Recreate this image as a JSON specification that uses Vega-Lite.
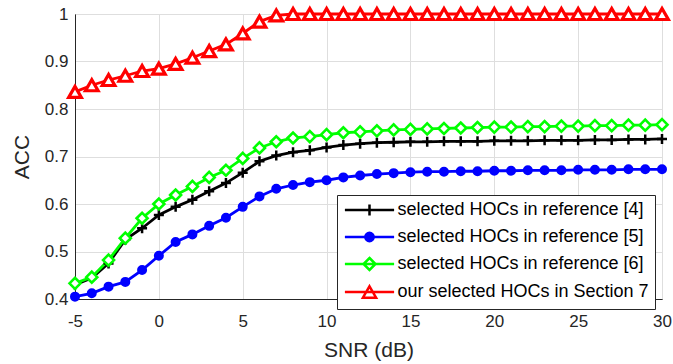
{
  "$schema": "https://vega.github.io/schema/vega-lite/v6.json",
  "width": 587,
  "height": 285,
  "autosize": "none",
  "padding": {"left": 75, "top": 14, "right": 11, "bottom": 65},
  "background": "white",
  "config": {
    "font": "Liberation Sans",
    "view": {"stroke": "#262626", "strokeWidth": 1},
    "axis": {
      "domainColor": "#262626",
      "grid": true,
      "gridColor": "#dedede",
      "gridWidth": 1,
      "ticks": false,
      "labelFlush": false,
      "labelColor": "#262626",
      "labelFontSize": 17,
      "titleColor": "#262626",
      "titleFontSize": 21,
      "titleFontWeight": "normal"
    }
  },
  "datasets": {
    "acc": [
      {"snr": -5, "method": "selected HOCs in reference [4]", "acc": 0.430},
      {"snr": -4, "method": "selected HOCs in reference [4]", "acc": 0.444},
      {"snr": -3, "method": "selected HOCs in reference [4]", "acc": 0.475},
      {"snr": -2, "method": "selected HOCs in reference [4]", "acc": 0.525},
      {"snr": -1, "method": "selected HOCs in reference [4]", "acc": 0.549},
      {"snr": 0, "method": "selected HOCs in reference [4]", "acc": 0.577},
      {"snr": 1, "method": "selected HOCs in reference [4]", "acc": 0.594},
      {"snr": 2, "method": "selected HOCs in reference [4]", "acc": 0.609},
      {"snr": 3, "method": "selected HOCs in reference [4]", "acc": 0.627},
      {"snr": 4, "method": "selected HOCs in reference [4]", "acc": 0.644},
      {"snr": 5, "method": "selected HOCs in reference [4]", "acc": 0.666},
      {"snr": 6, "method": "selected HOCs in reference [4]", "acc": 0.690},
      {"snr": 7, "method": "selected HOCs in reference [4]", "acc": 0.702},
      {"snr": 8, "method": "selected HOCs in reference [4]", "acc": 0.709},
      {"snr": 9, "method": "selected HOCs in reference [4]", "acc": 0.713},
      {"snr": 10, "method": "selected HOCs in reference [4]", "acc": 0.719},
      {"snr": 11, "method": "selected HOCs in reference [4]", "acc": 0.724},
      {"snr": 12, "method": "selected HOCs in reference [4]", "acc": 0.727},
      {"snr": 13, "method": "selected HOCs in reference [4]", "acc": 0.729},
      {"snr": 14, "method": "selected HOCs in reference [4]", "acc": 0.730},
      {"snr": 15, "method": "selected HOCs in reference [4]", "acc": 0.731},
      {"snr": 16, "method": "selected HOCs in reference [4]", "acc": 0.731},
      {"snr": 17, "method": "selected HOCs in reference [4]", "acc": 0.732},
      {"snr": 18, "method": "selected HOCs in reference [4]", "acc": 0.732},
      {"snr": 19, "method": "selected HOCs in reference [4]", "acc": 0.732},
      {"snr": 20, "method": "selected HOCs in reference [4]", "acc": 0.733},
      {"snr": 21, "method": "selected HOCs in reference [4]", "acc": 0.733},
      {"snr": 22, "method": "selected HOCs in reference [4]", "acc": 0.733},
      {"snr": 23, "method": "selected HOCs in reference [4]", "acc": 0.734},
      {"snr": 24, "method": "selected HOCs in reference [4]", "acc": 0.734},
      {"snr": 25, "method": "selected HOCs in reference [4]", "acc": 0.734},
      {"snr": 26, "method": "selected HOCs in reference [4]", "acc": 0.735},
      {"snr": 27, "method": "selected HOCs in reference [4]", "acc": 0.735},
      {"snr": 28, "method": "selected HOCs in reference [4]", "acc": 0.736},
      {"snr": 29, "method": "selected HOCs in reference [4]", "acc": 0.736},
      {"snr": 30, "method": "selected HOCs in reference [4]", "acc": 0.737},

      {"snr": -5, "method": "selected HOCs in reference [5]", "acc": 0.405},
      {"snr": -4, "method": "selected HOCs in reference [5]", "acc": 0.412},
      {"snr": -3, "method": "selected HOCs in reference [5]", "acc": 0.426},
      {"snr": -2, "method": "selected HOCs in reference [5]", "acc": 0.436},
      {"snr": -1, "method": "selected HOCs in reference [5]", "acc": 0.461},
      {"snr": 0, "method": "selected HOCs in reference [5]", "acc": 0.491},
      {"snr": 1, "method": "selected HOCs in reference [5]", "acc": 0.520},
      {"snr": 2, "method": "selected HOCs in reference [5]", "acc": 0.536},
      {"snr": 3, "method": "selected HOCs in reference [5]", "acc": 0.554},
      {"snr": 4, "method": "selected HOCs in reference [5]", "acc": 0.571},
      {"snr": 5, "method": "selected HOCs in reference [5]", "acc": 0.594},
      {"snr": 6, "method": "selected HOCs in reference [5]", "acc": 0.616},
      {"snr": 7, "method": "selected HOCs in reference [5]", "acc": 0.632},
      {"snr": 8, "method": "selected HOCs in reference [5]", "acc": 0.640},
      {"snr": 9, "method": "selected HOCs in reference [5]", "acc": 0.646},
      {"snr": 10, "method": "selected HOCs in reference [5]", "acc": 0.650},
      {"snr": 11, "method": "selected HOCs in reference [5]", "acc": 0.656},
      {"snr": 12, "method": "selected HOCs in reference [5]", "acc": 0.660},
      {"snr": 13, "method": "selected HOCs in reference [5]", "acc": 0.663},
      {"snr": 14, "method": "selected HOCs in reference [5]", "acc": 0.665},
      {"snr": 15, "method": "selected HOCs in reference [5]", "acc": 0.667},
      {"snr": 16, "method": "selected HOCs in reference [5]", "acc": 0.668},
      {"snr": 17, "method": "selected HOCs in reference [5]", "acc": 0.668},
      {"snr": 18, "method": "selected HOCs in reference [5]", "acc": 0.669},
      {"snr": 19, "method": "selected HOCs in reference [5]", "acc": 0.669},
      {"snr": 20, "method": "selected HOCs in reference [5]", "acc": 0.670},
      {"snr": 21, "method": "selected HOCs in reference [5]", "acc": 0.670},
      {"snr": 22, "method": "selected HOCs in reference [5]", "acc": 0.671},
      {"snr": 23, "method": "selected HOCs in reference [5]", "acc": 0.671},
      {"snr": 24, "method": "selected HOCs in reference [5]", "acc": 0.671},
      {"snr": 25, "method": "selected HOCs in reference [5]", "acc": 0.672},
      {"snr": 26, "method": "selected HOCs in reference [5]", "acc": 0.672},
      {"snr": 27, "method": "selected HOCs in reference [5]", "acc": 0.672},
      {"snr": 28, "method": "selected HOCs in reference [5]", "acc": 0.673},
      {"snr": 29, "method": "selected HOCs in reference [5]", "acc": 0.673},
      {"snr": 30, "method": "selected HOCs in reference [5]", "acc": 0.673},

      {"snr": -5, "method": "selected HOCs in reference [6]", "acc": 0.433},
      {"snr": -4, "method": "selected HOCs in reference [6]", "acc": 0.446},
      {"snr": -3, "method": "selected HOCs in reference [6]", "acc": 0.482},
      {"snr": -2, "method": "selected HOCs in reference [6]", "acc": 0.528},
      {"snr": -1, "method": "selected HOCs in reference [6]", "acc": 0.570},
      {"snr": 0, "method": "selected HOCs in reference [6]", "acc": 0.600},
      {"snr": 1, "method": "selected HOCs in reference [6]", "acc": 0.619},
      {"snr": 2, "method": "selected HOCs in reference [6]", "acc": 0.637},
      {"snr": 3, "method": "selected HOCs in reference [6]", "acc": 0.656},
      {"snr": 4, "method": "selected HOCs in reference [6]", "acc": 0.671},
      {"snr": 5, "method": "selected HOCs in reference [6]", "acc": 0.696},
      {"snr": 6, "method": "selected HOCs in reference [6]", "acc": 0.718},
      {"snr": 7, "method": "selected HOCs in reference [6]", "acc": 0.731},
      {"snr": 8, "method": "selected HOCs in reference [6]", "acc": 0.739},
      {"snr": 9, "method": "selected HOCs in reference [6]", "acc": 0.742},
      {"snr": 10, "method": "selected HOCs in reference [6]", "acc": 0.746},
      {"snr": 11, "method": "selected HOCs in reference [6]", "acc": 0.750},
      {"snr": 12, "method": "selected HOCs in reference [6]", "acc": 0.752},
      {"snr": 13, "method": "selected HOCs in reference [6]", "acc": 0.754},
      {"snr": 14, "method": "selected HOCs in reference [6]", "acc": 0.756},
      {"snr": 15, "method": "selected HOCs in reference [6]", "acc": 0.757},
      {"snr": 16, "method": "selected HOCs in reference [6]", "acc": 0.758},
      {"snr": 17, "method": "selected HOCs in reference [6]", "acc": 0.759},
      {"snr": 18, "method": "selected HOCs in reference [6]", "acc": 0.760},
      {"snr": 19, "method": "selected HOCs in reference [6]", "acc": 0.761},
      {"snr": 20, "method": "selected HOCs in reference [6]", "acc": 0.762},
      {"snr": 21, "method": "selected HOCs in reference [6]", "acc": 0.762},
      {"snr": 22, "method": "selected HOCs in reference [6]", "acc": 0.763},
      {"snr": 23, "method": "selected HOCs in reference [6]", "acc": 0.763},
      {"snr": 24, "method": "selected HOCs in reference [6]", "acc": 0.764},
      {"snr": 25, "method": "selected HOCs in reference [6]", "acc": 0.764},
      {"snr": 26, "method": "selected HOCs in reference [6]", "acc": 0.765},
      {"snr": 27, "method": "selected HOCs in reference [6]", "acc": 0.765},
      {"snr": 28, "method": "selected HOCs in reference [6]", "acc": 0.766},
      {"snr": 29, "method": "selected HOCs in reference [6]", "acc": 0.766},
      {"snr": 30, "method": "selected HOCs in reference [6]", "acc": 0.767},

      {"snr": -5, "method": "our selected HOCs in Section 7", "acc": 0.836},
      {"snr": -4, "method": "our selected HOCs in Section 7", "acc": 0.850},
      {"snr": -3, "method": "our selected HOCs in Section 7", "acc": 0.861},
      {"snr": -2, "method": "our selected HOCs in Section 7", "acc": 0.870},
      {"snr": -1, "method": "our selected HOCs in Section 7", "acc": 0.880},
      {"snr": 0, "method": "our selected HOCs in Section 7", "acc": 0.885},
      {"snr": 1, "method": "our selected HOCs in Section 7", "acc": 0.895},
      {"snr": 2, "method": "our selected HOCs in Section 7", "acc": 0.908},
      {"snr": 3, "method": "our selected HOCs in Section 7", "acc": 0.922},
      {"snr": 4, "method": "our selected HOCs in Section 7", "acc": 0.936},
      {"snr": 5, "method": "our selected HOCs in Section 7", "acc": 0.959},
      {"snr": 6, "method": "our selected HOCs in Section 7", "acc": 0.984},
      {"snr": 7, "method": "our selected HOCs in Section 7", "acc": 0.997},
      {"snr": 8, "method": "our selected HOCs in Section 7", "acc": 1.0},
      {"snr": 9, "method": "our selected HOCs in Section 7", "acc": 1.0},
      {"snr": 10, "method": "our selected HOCs in Section 7", "acc": 1.0},
      {"snr": 11, "method": "our selected HOCs in Section 7", "acc": 1.0},
      {"snr": 12, "method": "our selected HOCs in Section 7", "acc": 1.0},
      {"snr": 13, "method": "our selected HOCs in Section 7", "acc": 1.0},
      {"snr": 14, "method": "our selected HOCs in Section 7", "acc": 1.0},
      {"snr": 15, "method": "our selected HOCs in Section 7", "acc": 1.0},
      {"snr": 16, "method": "our selected HOCs in Section 7", "acc": 1.0},
      {"snr": 17, "method": "our selected HOCs in Section 7", "acc": 1.0},
      {"snr": 18, "method": "our selected HOCs in Section 7", "acc": 1.0},
      {"snr": 19, "method": "our selected HOCs in Section 7", "acc": 1.0},
      {"snr": 20, "method": "our selected HOCs in Section 7", "acc": 1.0},
      {"snr": 21, "method": "our selected HOCs in Section 7", "acc": 1.0},
      {"snr": 22, "method": "our selected HOCs in Section 7", "acc": 1.0},
      {"snr": 23, "method": "our selected HOCs in Section 7", "acc": 1.0},
      {"snr": 24, "method": "our selected HOCs in Section 7", "acc": 1.0},
      {"snr": 25, "method": "our selected HOCs in Section 7", "acc": 1.0},
      {"snr": 26, "method": "our selected HOCs in Section 7", "acc": 1.0},
      {"snr": 27, "method": "our selected HOCs in Section 7", "acc": 1.0},
      {"snr": 28, "method": "our selected HOCs in Section 7", "acc": 1.0},
      {"snr": 29, "method": "our selected HOCs in Section 7", "acc": 1.0},
      {"snr": 30, "method": "our selected HOCs in Section 7", "acc": 1.0}
    ]
  },
  "data": {"name": "acc"},
  "encoding": {
    "x": {
      "field": "snr",
      "type": "quantitative",
      "title": "SNR (dB)",
      "scale": {"domain": [-5, 30], "nice": false, "zero": false},
      "axis": {"values": [-5, 0, 5, 10, 15, 20, 25, 30], "labelExpr": "replace(datum.label, '\u2212', '-')", "labelPadding": 14, "titlePadding": 10}
    },
    "y": {
      "field": "acc",
      "type": "quantitative",
      "title": "ACC",
      "scale": {"domain": [0.4, 1], "nice": false, "zero": false},
      "axis": {"values": [0.4, 0.5, 0.6, 0.7, 0.8, 0.9, 1], "format": ".1~f", "labelPadding": 7, "titlePadding": 12}
    }
  },
  "layer": [
    {
      "mark": {"type": "line", "strokeWidth": 2.8},
      "encoding": {
        "stroke": {
          "field": "method",
          "type": "nominal",
          "scale": {
            "domain": ["selected HOCs in reference [4]", "selected HOCs in reference [5]", "selected HOCs in reference [6]", "our selected HOCs in Section 7"],
            "range": ["#000000", "#0000ff", "#00ff00", "#ff0000"]
          },
          "legend": {
            "title": null,
            "orient": "none",
            "legendX": 262,
            "legendY": 181,
            "direction": "vertical",
            "padding": 6,
            "strokeColor": "#262626",
            "fillColor": "white",
            "labelFontSize": 18,
            "labelColor": "#000000",
            "labelLimit": 400,
            "symbolSize": 144,
            "symbolStrokeWidth": 2.5,
            "symbolOffset": 17.5,
            "labelOffset": 19,
            "rowPadding": 6,
            "encode": {
              "symbols": {
                "update": {
                  "shape": {"signal": "datum.value === 'selected HOCs in reference [4]' ? 'M-4.1,0H4.1M0,-0.9V0.9' : datum.value === 'selected HOCs in reference [5]' ? 'M-4.1,0H4.1M0.7,0A0.7,0.7,0,1,1,-0.7,0A0.7,0.7,0,1,1,0.7,0Z' : datum.value === 'selected HOCs in reference [6]' ? 'M-4.1,0H4.1M0,-1L1,0L0,1L-1,0Z' : 'M-4.1,0H4.1M0,-0.95L1.1,0.95L-1.1,0.95Z'"},
                  "fill": {"signal": "datum.value === 'selected HOCs in reference [5]' ? '#0000ff' : 'transparent'"},
                  "strokeWidth": {"value": 2.5}
                }
              }
            }
          }
        }
      }
    },
    {
      "transform": [{"filter": "datum.method === 'selected HOCs in reference [4]'"}],
      "mark": {"type": "point", "shape": "M-1,0H1M0,-1V1", "size": 100, "stroke": "#000000", "fill": "transparent", "strokeWidth": 2.5, "opacity": 1},
      "encoding": {}
    },
    {
      "transform": [{"filter": "datum.method === 'selected HOCs in reference [5]'"}],
      "mark": {"type": "point", "shape": "circle", "size": 64, "stroke": "#0000ff", "fill": "#0000ff", "filled": true, "strokeWidth": 2, "opacity": 1},
      "encoding": {}
    },
    {
      "transform": [{"filter": "datum.method === 'selected HOCs in reference [6]'"}],
      "mark": {"type": "point", "shape": "diamond", "size": 121, "stroke": "#00ff00", "fill": "#ffffff", "filled": true, "strokeWidth": 2.6, "opacity": 1},
      "encoding": {}
    },
    {
      "transform": [{"filter": "datum.method === 'our selected HOCs in Section 7'"}],
      "mark": {"type": "point", "shape": "triangle-up", "size": 160, "stroke": "#ff0000", "fill": "#ffffff", "filled": true, "strokeWidth": 3.2, "opacity": 1},
      "encoding": {}
    }
  ]
}
